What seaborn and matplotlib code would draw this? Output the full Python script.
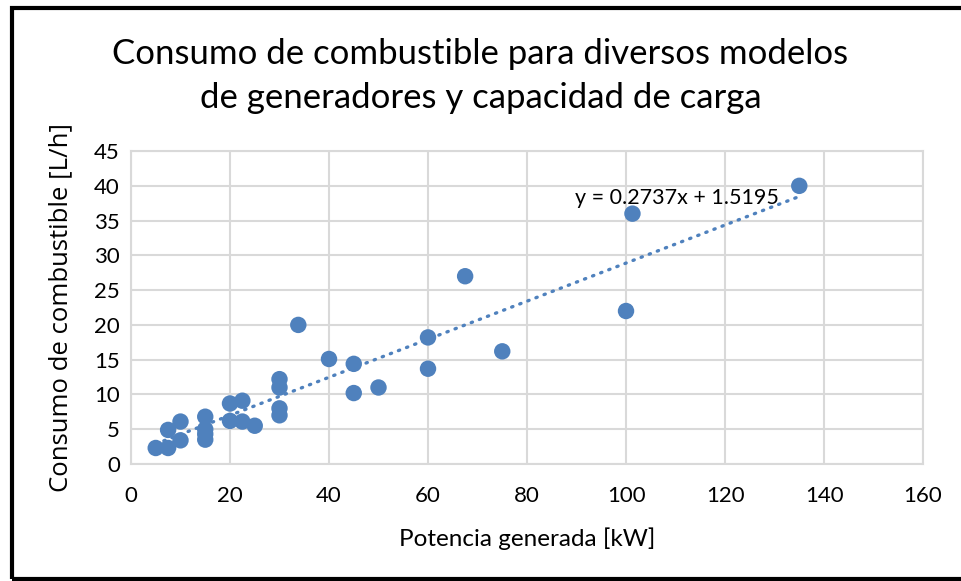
import numpy as np
import pandas as pd
import matplotlib
matplotlib.use('Agg')
import matplotlib.pyplot as plt
import seaborn as sns
from matplotlib.patches import Rectangle

# 数据：功率 [kW] 与油耗 [L/h]
potencia = [5, 7.5, 7.5, 10, 10, 15, 15, 15, 15, 20, 20, 22.5, 22.5, 25,
            30, 30, 30, 30, 33.8, 40, 45, 45, 50, 60, 60, 67.5, 75, 100, 101.3, 135]
consumo = [2.3, 2.3, 4.9, 6.1, 3.4, 6.8, 5.0, 4.3, 3.5, 8.7, 6.2, 9.1, 6.1, 5.5,
           12.2, 11.0, 8.0, 7.0, 20.0, 15.1, 14.4, 10.2, 11.0, 18.2, 13.7, 27.0, 16.2, 22.0, 36.0, 40.0]
pendiente = 0.2737
intercepto = 1.5195

df = pd.DataFrame({'Potencia': potencia, 'Consumo': consumo})

sns.set_theme(style='white')
plt.rcParams['font.family'] = ['Lato', 'DejaVu Sans']
plt.rcParams['text.color'] = 'black'
plt.rcParams['axes.labelcolor'] = 'black'

fig = plt.figure(figsize=(9.61, 5.81), dpi=100)
ax = fig.add_axes([0.1363, 0.2014, 0.8242, 0.5386])

color = '#4F81BD'
sns.scatterplot(data=df, x='Potencia', y='Consumo', ax=ax, color=color,
                s=140, edgecolor='none', zorder=3)

# 趋势线
xt = np.array([min(potencia), max(potencia)])
ax.plot(xt, pendiente * xt + intercepto, color=color, lw=2.4,
        linestyle=(0, (0.4, 2.2)), dash_capstyle='round', zorder=2)
ax.text(110.3, 38.2, 'y = 0.2737x + 1.5195', ha='center', va='center',
        fontsize=15.5, color='black')

ax.set_xlim(0, 160)
ax.set_ylim(0, 45)
ax.set_xticks(np.arange(0, 161, 20))
ax.set_yticks(np.arange(0, 46, 5))
ax.grid(True, color='#d9d9d9', lw=1.5)
ax.set_axisbelow(True)
for sp in ax.spines.values():
    sp.set_color('#d9d9d9')
    sp.set_linewidth(1.5)
ax.tick_params(length=0, labelsize=16, colors='black')
ax.tick_params(axis='x', pad=16)
ax.tick_params(axis='y', pad=8)

ax.set_xlabel('Potencia generada [kW]', fontsize=17.5, labelpad=15)
ax.set_ylabel('Consumo de combustible [L/h]', fontsize=18.5, labelpad=15,
              family=['Open Sans', 'DejaVu Sans'])

fig.text(0.5, 0.869, 'Consumo de combustible para diversos modelos\nde generadores y capacidad de carga',
         ha='center', va='center', fontsize=25, linespacing=1.45, color='black')

# 外框
fig.patches.append(Rectangle((12 / 961, 2 / 581), 1.0, 1 - 10 / 581,
                             transform=fig.transFigure, fill=False,
                             edgecolor='black', lw=3, zorder=10))

fig.savefig('out.png', dpi=100)
